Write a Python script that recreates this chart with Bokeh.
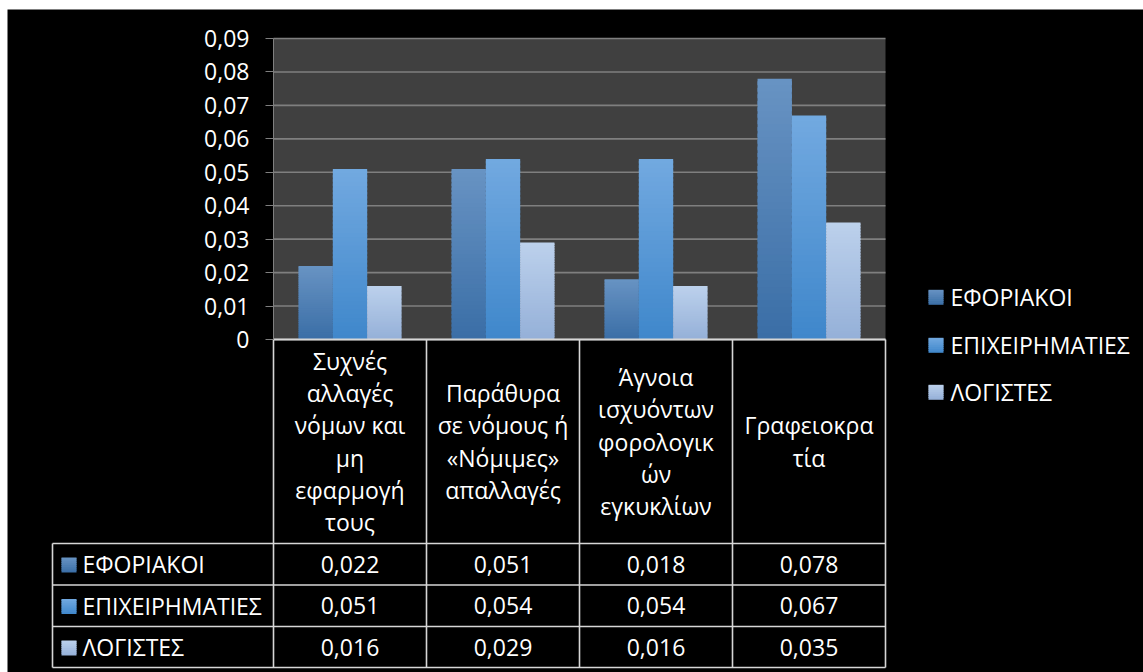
import numpy as np
from bokeh.plotting import figure
from bokeh.layouts import column, row
from bokeh.models import Range1d, FixedTicker, CustomJSTickFormatter, ColumnDataSource, Spacer
from bokeh.core.properties import value
from bokeh.embed import file_html
from bokeh.resources import INLINE

# ---- data -----------------------------------------------------------------
categories = [
    "Συχνές\nαλλαγές\nνόμων και\nμη\nεφαρμογή\nτους",
    "Παράθυρα\nσε νόμους ή\n«Νόμιμες»\nαπαλλαγές",
    "Άγνοια\nισχυόντων\nφορολογικ\nών\nεγκυκλίων",
    "Γραφειοκρα\nτία",
]
series_names = ["ΕΦΟΡΙΑΚΟΙ", "ΕΠΙΧΕΙΡΗΜΑΤΙΕΣ", "ΛΟΓΙΣΤΕΣ"]
eforiakoi = [0.022, 0.051, 0.018, 0.078]
epixeirimaties = [0.051, 0.054, 0.054, 0.067]
logistes = [0.016, 0.029, 0.016, 0.035]
y_ticks = [0, 0.01, 0.02, 0.03, 0.04, 0.05, 0.06, 0.07, 0.08, 0.09]

series_values = [eforiakoi, epixeirimaties, logistes]
# vertical gradient per series: (top colour, bottom colour)
shades = [("#6893c3", "#3a6ea6"), ("#72a9e0", "#3f87cb"), ("#bcd1ec", "#95b0d8")]

# ---- layout constants (window pixels) ---------------------------------------
OFF_X, OFF_Y = 7, 9             # white edge around the black canvas
W, H = 1143, 672
PLOT_L, PLOT_R = 273, 885       # plot area
PLOT_T, PLOT_B = 38, 339
Y_MAX = 0.09
CAT_PX = (PLOT_R - PLOT_L) / len(categories)
Y_PX = (PLOT_B - PLOT_T) / Y_MAX
BAR_W = 34.3 / CAT_PX
FONT = "Open Sans"
FS = "23px"
GRID = "#7f7f7f"
RULE = "#d6d6d6"


def hex2rgb(h):
    h = h.lstrip("#")
    return np.array([int(h[i:i + 2], 16) for i in (0, 2, 4)], dtype=float)


def mix(top_c, bot_c, t):
    c = hex2rgb(bot_c) * (1 - t) + hex2rgb(top_c) * t
    return "#%02x%02x%02x" % tuple(int(round(v)) for v in c)


def px_x(px):
    """window x pixel -> category axis units"""
    return (px - PLOT_L) / CAT_PX


def px_y(py):
    """window y pixel -> value axis units"""
    return (PLOT_B - py) / Y_PX


p = figure(
    width=W - OFF_X, height=H - OFF_Y,
    x_range=Range1d(px_x(OFF_X), px_x(W)),
    y_range=Range1d(px_y(H), px_y(OFF_Y)),
    min_border=0, x_axis_location=None, y_axis_location="left",
    toolbar_location=None, output_backend="svg",
    background_fill_color="black", border_fill_color="black",
    outline_line_color=None,
)
p.xgrid.visible = False
p.ygrid.visible = False

# ---- value axis, pinned to the left edge of the plot area ---------------------
yax = p.yaxis[0]
yax.fixed_location = 0
yax.bounds = (0, Y_MAX)
yax.ticker = FixedTicker(ticks=y_ticks)
yax.formatter = CustomJSTickFormatter(
    code="return tick === 0 ? '0' : tick.toFixed(2).replace('.', ',');")
yax.axis_line_color = GRID
yax.major_tick_line_color = GRID
yax.major_tick_out = 8
yax.major_tick_in = 0
yax.minor_tick_out = 0
yax.minor_tick_in = 0
yax.major_label_text_color = "white"
yax.major_label_text_font = FONT
yax.major_label_text_font_size = FS
yax.major_label_standoff = 16

# ---- plot area, gridlines, bars ---------------------------------------------
n_cat = len(categories)
p.quad(left=0, right=n_cat, bottom=0, top=Y_MAX, fill_color="#404040", line_color=None)
p.segment(x0=[0] * len(y_ticks), x1=[n_cat] * len(y_ticks), y0=y_ticks, y1=y_ticks,
          line_color=GRID, line_width=1.6)

N_BANDS = 40
centers = np.arange(n_cat) + 0.5
for s, vals in enumerate(series_values):
    vals = np.asarray(vals, dtype=float)
    xs = centers + (s - 1) * BAR_W
    top_c, bot_c = shades[s]
    data = dict(x=[], bottom=[], top=[], color=[])
    for k in range(N_BANDS):
        data["x"] += list(xs)
        data["bottom"] += list(vals * k / N_BANDS)
        data["top"] += list(vals * min(k + 1.6, N_BANDS) / N_BANDS)
        data["color"] += [mix(top_c, bot_c, (k + 0.5) / N_BANDS)] * n_cat
    p.vbar(x="x", width=BAR_W, bottom="bottom", top="top", fill_color="color",
           line_color=None, source=ColumnDataSource(data))

# ---- data table under the chart -------------------------------------------
TBL_TOP, HEAD_BOT, TBL_BOT = 339, 543, 667
ROW_Y = [563.5, 605, 646.5]
ROW_LINES = [584.5, 626]
LABEL_L = 52


def swatch(x0, x1, y_top, y_bot, top_c, bot_c, n=8):
    # small gradient colour key
    hs = (y_bot - y_top) / n
    d = dict(l=[], r=[], b=[], t=[], c=[])
    for k in range(n):
        yb = y_bot - k * hs
        yt = max(yb - hs * 1.6, y_top)
        d["l"].append(px_x(x0))
        d["r"].append(px_x(x1))
        d["b"].append(px_y(yb))
        d["t"].append(px_y(yt))
        d["c"].append(mix(top_c, bot_c, (k + 0.5) / n))
    p.quad(left="l", right="r", bottom="b", top="t", fill_color="c", line_color=None,
           source=ColumnDataSource(d))


# category headers, one line of text per wrapped line
hx, hy, ht = [], [], []
for i, cat in enumerate(categories):
    lines = cat.split("\n")
    for j, ln in enumerate(lines):
        hx.append(i + 0.5)
        hy.append(px_y((TBL_TOP + HEAD_BOT) / 2 + (j - (len(lines) - 1) / 2) * 32.2))
        ht.append(ln)
p.text(x=hx, y=hy, text=ht, text_align="center", text_baseline="middle",
       text_color="white", text_font=value(FONT), text_font_size=FS)

# values
vx, vy, vt = [], [], []
for s, vals in enumerate(series_values):
    for i, v in enumerate(vals):
        vx.append(i + 0.5)
        vy.append(px_y(ROW_Y[s]))
        vt.append(f"{v:.3f}".replace(".", ","))
p.text(x=vx, y=vy, text=vt, text_align="center", text_baseline="middle",
       text_color="white", text_font=value(FONT), text_font_size=FS)

# row labels with colour keys
for s in range(len(series_names)):
    swatch(61, 76, ROW_Y[s] - 6.5, ROW_Y[s] + 8.5, *shades[s])
p.text(x=[px_x(82)] * 3, y=[px_y(v) for v in ROW_Y], text=series_names, text_align="left",
       text_baseline="middle", text_color="white", text_font=value(FONT),
       text_font_size=FS)

# rules
row_edges = [HEAD_BOT] + ROW_LINES + [TBL_BOT]
col_edges = list(range(n_cat + 1))
p.segment(x0=col_edges, x1=col_edges, y0=[px_y(TBL_TOP)] * len(col_edges),
          y1=[px_y(TBL_BOT)] * len(col_edges), line_color=RULE, line_width=1.6)
p.segment(x0=[px_x(LABEL_L)], x1=[px_x(LABEL_L)], y0=[px_y(HEAD_BOT)], y1=[px_y(TBL_BOT)],
          line_color=RULE, line_width=1.6)
p.segment(x0=[0], x1=[n_cat], y0=[px_y(TBL_TOP)], y1=[px_y(TBL_TOP)],
          line_color=RULE, line_width=2)
p.segment(x0=[px_x(LABEL_L)] * 4, x1=[n_cat] * 4,
          y0=[px_y(v) for v in row_edges], y1=[px_y(v) for v in row_edges],
          line_color=RULE, line_width=1.6)

# ---- legend -----------------------------------------------------------------
LEG_Y = [296.8, 344.8, 391.8]
for s in range(len(series_names)):
    swatch(928, 943, LEG_Y[s] - 7.5, LEG_Y[s] + 7.5, *shades[s])
p.text(x=[px_x(950)] * 3, y=[px_y(v) for v in LEG_Y], text=series_names, text_align="left",
       text_baseline="middle", text_color="white", text_font=value(FONT),
       text_font_size=FS)

page = column(
    Spacer(width=W, height=OFF_Y),
    row(Spacer(width=OFF_X, height=H - OFF_Y), p),
)

open("out.html", "w").write(file_html(page, INLINE))
